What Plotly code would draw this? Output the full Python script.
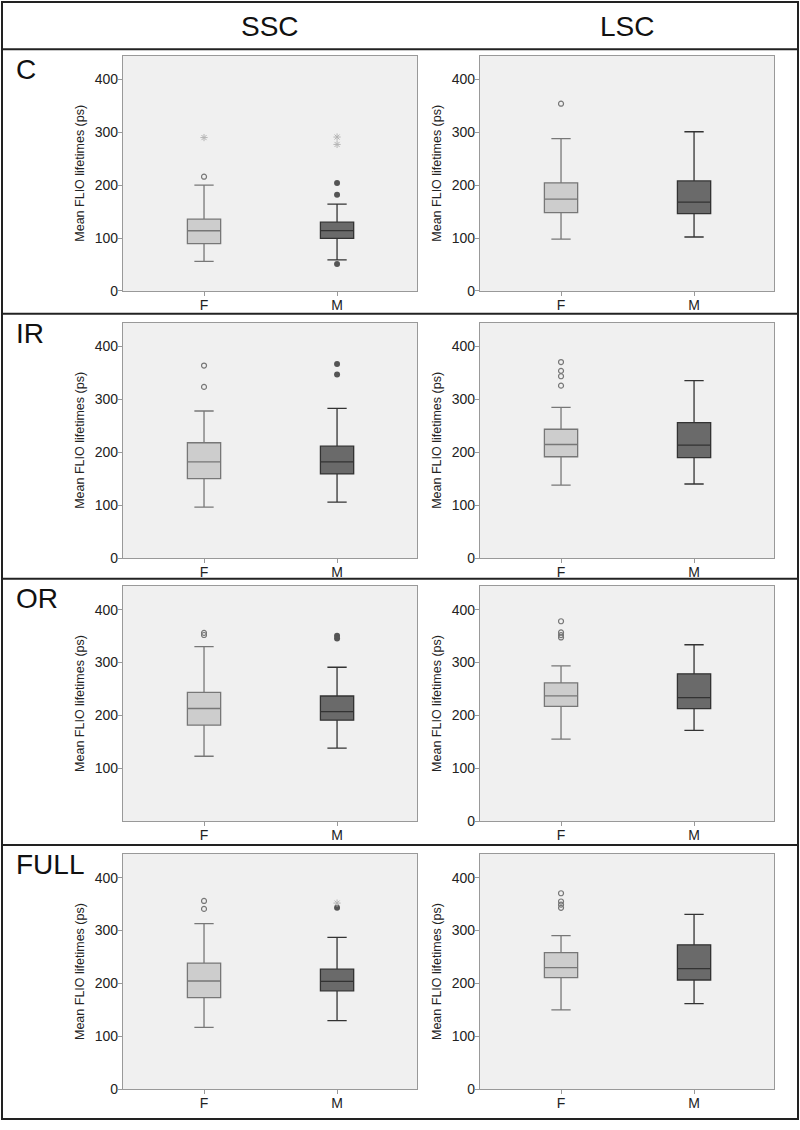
import plotly.graph_objects as go

# ---------------- data (ps) ----------------
regions = ["C", "IR", "OR", "FULL"]
cells = ["SSC", "LSC"]
sexes = ["F", "M"]
y_ticks = [0, 100, 200, 300, 400]
y_ticks_or_ssc = [100, 200, 300, 400]

# SSC, female
ssc_f_lo = [55.7, 96.4, 122.7, 117]
ssc_f_q1 = [89.4, 150, 181.5, 173.4]
ssc_f_med = [113.8, 182, 213, 204.7]
ssc_f_q3 = [135.6, 218, 243.5, 238.5]
ssc_f_hi = [200, 278, 330, 313]
ssc_f_out = [[216], [364, 323.6], [352, 356], [356, 341]]
ssc_f_ext = [[290], [], [], []]

# SSC, male
ssc_m_lo = [58.7, 105.8, 138, 129.6]
ssc_m_q1 = [99.4, 159, 191, 186]
ssc_m_med = [114, 182, 207, 204]
ssc_m_q3 = [130, 211.6, 236.6, 227]
ssc_m_hi = [164, 283, 291, 287]
ssc_m_out = [[204, 182, 51], [367, 347], [350.5, 345.5], [343]]
ssc_m_ext = [[291, 277], [], [], [352]]

# LSC, female
lsc_f_lo = [98, 138, 155, 150]
lsc_f_q1 = [148, 191.5, 217, 211]
lsc_f_med = [173.5, 214.7, 237, 230]
lsc_f_q3 = [204.5, 243.5, 261.6, 258.5]
lsc_f_hi = [288, 285, 293.6, 290.4]
lsc_f_out = [[354], [370.6, 354, 343.7, 326], [378, 356.8, 351.8, 347.4], [370.6, 355, 349, 343]]
lsc_f_ext = [[], [], [], []]

# LSC, male
lsc_m_lo = [102, 140, 171.5, 162]
lsc_m_q1 = [146, 190, 212.8, 206.6]
lsc_m_med = [168, 213.5, 233.5, 228]
lsc_m_q3 = [208, 256, 278.6, 273]
lsc_m_hi = [301, 335.5, 333.6, 330.5]
lsc_m_out = [[], [], [], []]
lsc_m_ext = [[], [], [], []]

stats = {
    ("SSC", "F"): (ssc_f_lo, ssc_f_q1, ssc_f_med, ssc_f_q3, ssc_f_hi, ssc_f_out, ssc_f_ext),
    ("SSC", "M"): (ssc_m_lo, ssc_m_q1, ssc_m_med, ssc_m_q3, ssc_m_hi, ssc_m_out, ssc_m_ext),
    ("LSC", "F"): (lsc_f_lo, lsc_f_q1, lsc_f_med, lsc_f_q3, lsc_f_hi, lsc_f_out, lsc_f_ext),
    ("LSC", "M"): (lsc_m_lo, lsc_m_q1, lsc_m_med, lsc_m_q3, lsc_m_hi, lsc_m_out, lsc_m_ext),
}

# ---------------- styling ----------------
W, H = 800, 1130
FONT = "Liberation Sans, Arial, sans-serif"
fill = {"F": "#cdcdcd", "M": "#6a6a6a"}
line = {"F": "#777777", "M": "#333333"}
out_style = {
    "F": dict(symbol="circle-open", size=5, color="#777777", line=dict(width=1.2, color="#777777")),
    "M": dict(symbol="circle", size=6, color="#555555"),
}
ext_style = dict(symbol="asterisk-open", size=6, color="#b5b5b5", line=dict(width=1, color="#b5b5b5"))

col_px = [(123, 417), (480, 774)]
row_px = [(56, 293), (325, 562), (590, 827), (860, 1097)]

fig = go.Figure()
layout = dict(
    width=W, height=H, margin=dict(l=0, r=0, t=0, b=0),
    paper_bgcolor="white", plot_bgcolor="#f0f0f0",
    showlegend=False, font=dict(family=FONT, color="#222222"),
    boxmode="overlay",
)

for r, reg in enumerate(regions):
    for c, cell in enumerate(cells):
        idx = r * 2 + c + 1
        xa = "x" if idx == 1 else f"x{idx}"
        ya = "y" if idx == 1 else f"y{idx}"
        for sx in sexes:
            lo, q1, med, q3, hi, outs, exts = stats[(cell, sx)]
            fig.add_trace(go.Box(
                x=[sx], lowerfence=[lo[r]], q1=[q1[r]], median=[med[r]], q3=[q3[r]], upperfence=[hi[r]],
                fillcolor=fill[sx], line=dict(color=line[sx], width=1.3),
                width=0.25, whiskerwidth=0.58, boxpoints=False,
                xaxis=xa, yaxis=ya, hoverinfo="skip",
            ))
            if outs[r]:
                fig.add_trace(go.Scatter(
                    x=[sx] * len(outs[r]), y=outs[r], mode="markers",
                    marker=out_style[sx], xaxis=xa, yaxis=ya, hoverinfo="skip",
                ))
            if exts[r]:
                fig.add_trace(go.Scatter(
                    x=[sx] * len(exts[r]), y=exts[r], mode="markers",
                    marker=ext_style, xaxis=xa, yaxis=ya, hoverinfo="skip",
                ))
        x0, x1 = col_px[c]
        y0, y1 = row_px[r]
        tv = y_ticks_or_ssc if (reg == "OR" and cell == "SSC") else y_ticks
        layout["xaxis" if idx == 1 else f"xaxis{idx}"] = dict(
            domain=[x0 / W, x1 / W], anchor=ya,
            type="category", categoryorder="array", categoryarray=sexes,
            range=[-0.609, 1.601], showgrid=False, zeroline=False,
            showline=True, mirror=True, linecolor="#999999", linewidth=1.2,
            ticks="outside", ticklen=4, tickcolor="#999999", ticklabelstandoff=-3,
            tickfont=dict(size=14, color="#222222"), fixedrange=True,
        )
        layout["yaxis" if idx == 1 else f"yaxis{idx}"] = dict(
            domain=[1 - y1 / H, 1 - y0 / H], anchor=xa,
            range=[0, 445], tickvals=tv, showgrid=False, zeroline=False,
            showline=True, mirror=True, linecolor="#999999", linewidth=1.2,
            ticks="outside", ticklen=4, tickcolor="#999999", ticklabelstandoff=-3,
            tickfont=dict(size=14, color="#222222"),
            title=dict(text="Mean FLIO lifetimes (ps)", font=dict(size=12.5, color="#222222"), standoff=7),
            fixedrange=True,
        )

# frame & separators
shapes = [dict(type="rect", xref="paper", yref="paper",
               x0=2 / W, x1=798 / W, y0=1 - 1127 / H, y1=1 - 2 / H,
               line=dict(color="#222222", width=2))]
for yp in [49.5, 316, 583, 851]:
    shapes.append(dict(type="line", xref="paper", yref="paper",
                       x0=2 / W, x1=798 / W, y0=1 - yp / H, y1=1 - yp / H,
                       line=dict(color="#222222", width=2)))
layout["shapes"] = shapes

annotations = []
for c, cell in enumerate(cells):
    cx = (col_px[c][0] + col_px[c][1]) / 2
    annotations.append(dict(text=cell, xref="paper", yref="paper", x=cx / W, y=1 - 27 / H,
                            xanchor="center", yanchor="middle", showarrow=False,
                            font=dict(size=28, color="#111111")))
label_top = [52, 318, 585, 853]
for r, reg in enumerate(regions):
    annotations.append(dict(text=reg, xref="paper", yref="paper", x=14 / W, y=1 - label_top[r] / H,
                            xanchor="left", yanchor="top", showarrow=False,
                            font=dict(size=28, color="#111111")))
layout["annotations"] = annotations

fig.update_layout(**layout)
fig.write_html("out.html", config={"displayModeBar": False},
               post_script="document.body.style.margin='0';document.body.style.overflow='hidden';")
